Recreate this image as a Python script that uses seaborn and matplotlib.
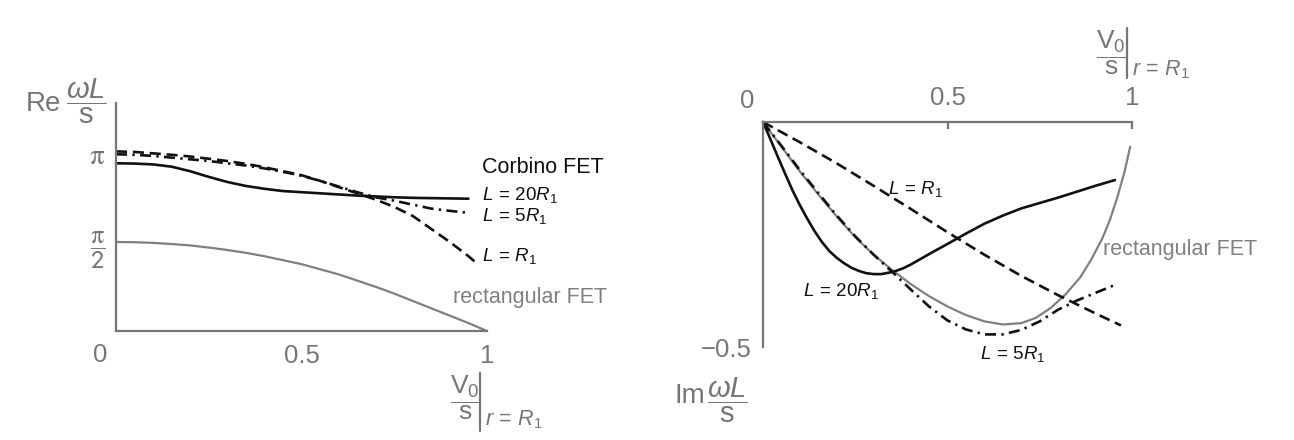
import numpy as np
import pandas as pd
import matplotlib
matplotlib.use("Agg")
import matplotlib.pyplot as plt
from matplotlib.lines import Line2D
import seaborn as sns

# ---------------- data ----------------
# Left panel: Re(omega L / s) versus V0/s at r = R1
re_x_20 = [0, 0.05, 0.1, 0.15, 0.2, 0.25, 0.3, 0.35, 0.4, 0.45, 0.5, 0.55, 0.6, 0.65, 0.7, 0.75, 0.8, 0.85, 0.9, 0.95]
re_y_20 = [2.96, 2.955, 2.94, 2.90, 2.82, 2.72, 2.63, 2.56, 2.51, 2.47, 2.45, 2.43, 2.41, 2.39, 2.375, 2.36, 2.35, 2.345, 2.34, 2.335]

re_x_5 = [0, 0.05, 0.1, 0.15, 0.2, 0.25, 0.3, 0.35, 0.4, 0.45, 0.5, 0.55, 0.6, 0.65, 0.7, 0.75, 0.8, 0.85, 0.9, 0.945]
re_y_5 = [3.12, 3.11, 3.09, 3.06, 3.03, 3.00, 2.96, 2.92, 2.87, 2.81, 2.74, 2.65, 2.55, 2.45, 2.36, 2.30, 2.23, 2.16, 2.12, 2.09]

re_x_1 = [0, 0.05, 0.1, 0.15, 0.2, 0.25, 0.3, 0.35, 0.4, 0.45, 0.5, 0.55, 0.6, 0.65, 0.7, 0.75, 0.8, 0.85, 0.9, 0.95, 0.968]
re_y_1 = [3.17, 3.16, 3.135, 3.11, 3.08, 3.04, 3.00, 2.95, 2.89, 2.82, 2.75, 2.65, 2.54, 2.43, 2.32, 2.19, 2.03, 1.80, 1.57, 1.32, 1.22]

re_x_rect = [0, 0.05, 0.1, 0.15, 0.2, 0.25, 0.3, 0.35, 0.4, 0.45, 0.5, 0.55, 0.6, 0.65, 0.7, 0.75, 0.8, 0.85, 0.9, 0.95, 1.0]
re_y_rect = [1.571, 1.567, 1.555, 1.535, 1.51, 1.473, 1.43, 1.38, 1.32, 1.25, 1.18, 1.09, 1.00, 0.89, 0.78, 0.66, 0.53, 0.40, 0.27, 0.14, 0.0]

# Right panel: Im(omega L / s) versus V0/s at r = R1
im_x_20 = [0, 0.02, 0.04, 0.06, 0.08, 0.10, 0.12, 0.14, 0.16, 0.18, 0.20, 0.22, 0.24, 0.26, 0.28, 0.30,
           0.32, 0.34, 0.36, 0.38, 0.40, 0.43, 0.46, 0.50, 0.55, 0.60, 0.65, 0.70, 0.75, 0.80, 0.85, 0.90, 0.954]
im_y_20 = [0, -0.038, -0.077, -0.115, -0.152, -0.185, -0.215, -0.243, -0.267, -0.287, -0.302, -0.314, -0.324,
           -0.331, -0.336, -0.338, -0.338, -0.335, -0.331, -0.325, -0.317, -0.303, -0.289, -0.271, -0.248,
           -0.226, -0.208, -0.192, -0.180, -0.168, -0.155, -0.142, -0.129]

im_x_5 = [0, 0.05, 0.1, 0.15, 0.2, 0.25, 0.3, 0.35, 0.4, 0.45, 0.5, 0.55, 0.6, 0.65, 0.7, 0.75, 0.8, 0.85, 0.9, 0.954]
im_y_5 = [0, -0.053, -0.107, -0.158, -0.208, -0.254, -0.295, -0.333, -0.372, -0.41, -0.441, -0.461, -0.472,
          -0.472, -0.462, -0.443, -0.417, -0.397, -0.38, -0.362]

im_x_1 = [0, 0.1, 0.2, 0.3, 0.4, 0.5, 0.6, 0.7, 0.8, 0.9, 0.97]
im_y_1 = [0, -0.045, -0.092, -0.142, -0.193, -0.245, -0.295, -0.342, -0.385, -0.425, -0.452]

im_x_rect = [0, 0.05, 0.1, 0.15, 0.2, 0.25, 0.3, 0.35, 0.4, 0.45, 0.5, 0.55, 0.6, 0.65, 0.7, 0.74, 0.78,
             0.82, 0.86, 0.89, 0.92, 0.94, 0.96, 0.98, 0.995]
im_y_rect = [0, -0.055, -0.11, -0.161, -0.21, -0.256, -0.295, -0.329, -0.36, -0.387, -0.41, -0.429, -0.443,
             -0.45, -0.447, -0.435, -0.413, -0.383, -0.345, -0.305, -0.258, -0.218, -0.168, -0.110, -0.055]

# labels
left_labels = ["Corbino FET", r"$L\,=\,20R_1$", r"$L\,=\,5R_1$", r"$L\,=\,R_1$", "rectangular FET"]
right_labels = [r"$L\,=\,R_1$", r"$L\,=\,20R_1$", r"$L\,=\,5R_1$", "rectangular FET"]
x_frac = r"$\dfrac{\mathrm{V}_0}{\mathrm{s}}$"
x_cond = r"$r\,=\,R_1$"
wl_frac = r"$\dfrac{\omega L}{\mathrm{s}}$"
re_word, im_word = "Re", "Im"
re_ticklabels = [r"$\dfrac{\mathrm{\pi}}{\mathsf{2}}$", r"$\mathrm{\pi}$"]
im_ticklabel = "\u22120.5"

# ---------------- style ----------------
sns.set_theme(style="white")
plt.rcParams["font.family"] = ["Liberation Sans", "DejaVu Sans"]
plt.rcParams["mathtext.fontset"] = "custom"
plt.rcParams["mathtext.rm"] = "Liberation Sans"
plt.rcParams["mathtext.it"] = "Liberation Sans:italic"
plt.rcParams["mathtext.bf"] = "Liberation Sans:bold"
plt.rcParams["mathtext.sf"] = "Liberation Sans"

GRAY = "#767676"
LGRAY = "#808080"
BLACK = "#111111"
W, H = 1294, 440
TICK_FS = 18.5

fig = plt.figure(figsize=(W / 100, H / 100), dpi=100)
fig.patch.set_facecolor("white")

def fpos(px, py):
    return px / W, 1 - py / H

ax1 = fig.add_axes([116 / W, (H - 331) / H, 371 / W, 228 / H])
ax2 = fig.add_axes([763 / W, (H - 347) / H, 369 / W, 225 / H])

dash = (0, (4.2, 2.2))
dashdot = (0, (4.2, 2.0, 0.9, 2.0))
LW = 1.9

def line(ax, x, y, color, ls, lw):
    df = pd.DataFrame({"x": x, "y": y})
    sns.lineplot(data=df, x="x", y="y", ax=ax, color=color, linestyle=ls,
                 linewidth=lw, sort=False, estimator=None, clip_on=False,
                 legend=False)

def axis_var_label(px_frac, py_bar, px_bar, px_cond, py_base, bar_top, bar_bot):
    # V0/s | r = R1 composed label
    fig.text(*fpos(px_frac, py_bar - 2), x_frac, color=GRAY, fontsize=19,
             ha="center", va="center")
    fig.add_artist(Line2D([px_bar / W, px_bar / W],
                          [1 - bar_top / H, 1 - bar_bot / H],
                          transform=fig.transFigure, color=GRAY, lw=1.6))
    fig.text(*fpos(px_cond, py_base), x_cond, color=GRAY, fontsize=15.5,
             ha="left", va="baseline")

# ---- left panel
line(ax1, re_x_rect, re_y_rect, LGRAY, "-", 1.6)
line(ax1, re_x_20, re_y_20, BLACK, "-", LW)
line(ax1, re_x_5, re_y_5, BLACK, dashdot, LW)
line(ax1, re_x_1, re_y_1, BLACK, dash, LW)

ax1.set_xlim(0, 1)
ax1.set_ylim(0, 4.024)
for s in ["top", "right"]:
    ax1.spines[s].set_visible(False)
for s in ["left", "bottom"]:
    ax1.spines[s].set_color(GRAY)
    ax1.spines[s].set_linewidth(1.6)
ax1.set_xticks([0.5, 1.0])
ax1.set_xticklabels(["0.5", "1"])
ax1.set_yticks([np.pi / 2, np.pi])
ax1.set_yticklabels(re_ticklabels)
ytl = ax1.get_yticklabels()
for t in ytl:
    t.set_math_fontfamily("stix")
ytl[0].set_fontsize(19)
ytl[1].set_fontsize(21)
ax1.tick_params(axis="x", direction="in", length=5, width=1.6, color=GRAY,
                labelcolor=GRAY, labelsize=TICK_FS, pad=9)
ax1.tick_params(axis="y", direction="in", length=0, width=1.6, color=GRAY,
                labelcolor=GRAY, pad=8)
ax1.set_xlabel("")
ax1.set_ylabel("")
fig.text(*fpos(100, 355), "0", color=GRAY, fontsize=TICK_FS, ha="center", va="center")

ax1.text(0.987, 2.877, left_labels[0], color=BLACK, fontsize=15.5, ha="left", va="center")
ax1.text(0.987, 2.40, left_labels[1], color=BLACK, fontsize=13.5, ha="left", va="center")
ax1.text(0.987, 2.03, left_labels[2], color=BLACK, fontsize=13.5, ha="left", va="center")
ax1.text(0.987, 1.32, left_labels[3], color=BLACK, fontsize=13.5, ha="left", va="center")
ax1.text(0.908, 0.60, left_labels[4], color=LGRAY, fontsize=15.5, ha="left", va="center")

fig.text(*fpos(61, 104), re_word, color=GRAY, fontsize=20, ha="right", va="center")
fig.text(*fpos(86, 101), wl_frac, color=GRAY, fontsize=21, ha="center", va="center")
axis_var_label(465, 400, 480, 485, 425, 373, 431)

# ---- right panel
line(ax2, im_x_rect, im_y_rect, LGRAY, "-", 1.6)
line(ax2, im_x_20, im_y_20, BLACK, "-", LW)
line(ax2, im_x_5, im_y_5, BLACK, dashdot, LW)
line(ax2, im_x_1, im_y_1, BLACK, dash, LW)

ax2.set_xlim(0, 1)
ax2.set_ylim(-0.5, 0)
for s in ["bottom", "right"]:
    ax2.spines[s].set_visible(False)
for s in ["left", "top"]:
    ax2.spines[s].set_color(GRAY)
    ax2.spines[s].set_linewidth(1.6)
ax2.xaxis.tick_top()
ax2.set_xticks([0.5, 1.0])
ax2.set_xticklabels(["0.5", "1"])
ax2.set_yticks([-0.5])
ax2.set_yticklabels([im_ticklabel])
ax2.tick_params(axis="x", direction="in", length=5, width=1.6, color=GRAY,
                labelcolor=GRAY, labelsize=TICK_FS, pad=9)
ax2.tick_params(axis="y", direction="in", length=5, width=1.6, color=GRAY,
                labelcolor=GRAY, labelsize=TICK_FS, pad=8)
ax2.set_xlabel("")
ax2.set_ylabel("")
fig.text(*fpos(747, 101), "0", color=GRAY, fontsize=TICK_FS, ha="center", va="center")

ax2.text(0.339, -0.149, right_labels[0], color=BLACK, fontsize=13.5, ha="left", va="center")
ax2.text(0.108, -0.376, right_labels[1], color=BLACK, fontsize=13.5, ha="left", va="center")
ax2.text(0.588, -0.516, right_labels[2], color=BLACK, fontsize=13.5, ha="left", va="center", clip_on=False)
ax2.text(0.921, -0.284, right_labels[3], color=LGRAY, fontsize=15.5, ha="left", va="center")

fig.text(*fpos(705, 396), im_word, color=GRAY, fontsize=20, ha="right", va="center")
fig.text(*fpos(727, 400), wl_frac, color=GRAY, fontsize=21, ha="center", va="center")
axis_var_label(1111, 55, 1127, 1132, 75, 28, 78)

fig.savefig("out.png", dpi=100, facecolor="white")
